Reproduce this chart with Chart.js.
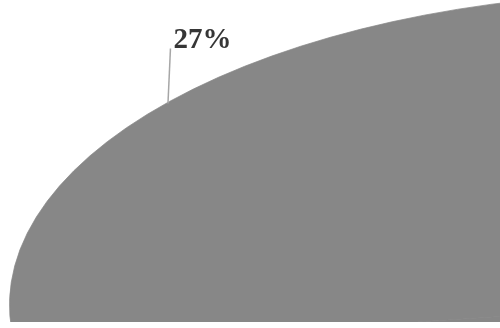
<!DOCTYPE html>
<html><head><meta charset="utf-8">
<script src="https://cdn.jsdelivr.net/npm/chart.js@4.4.1/dist/chart.umd.min.js"></script>
<style>
html,body{margin:0;padding:0;background:#fff;overflow:hidden;width:500px;height:328px;}
#clip{position:absolute;left:0;top:0;width:500px;height:322px;overflow:hidden;}
#c{position:absolute;left:9px;top:-360px;}
</style></head><body>
<div id="clip"><canvas id="c" width="1330" height="1330"></canvas></div>
<script>
const categories = ['Category A', 'Category B'];
const values = [27, 73];

const sliceColors = ['#878787', '#878787'];
const tiltY = 313 / 665;

const ellipsePlugin = {
  id: 'ellipse',
  beforeDatasetsDraw(chart) {
    const a = chart.getDatasetMeta(0).data[0];
    const ctx = chart.ctx;
    ctx.save();
    ctx.translate(a.x, a.y);
    ctx.scale(1, tiltY);
    ctx.translate(-a.x, -a.y);
  },
  afterDatasetsDraw(chart) { chart.ctx.restore(); }
};

const labelPlugin = {
  id: 'pctLabel',
  afterDraw(chart) {
    const ctx = chart.ctx;
    const arc = chart.getDatasetMeta(0).data[0];
    const mid = (arc.startAngle + arc.endAngle) / 2;
    const R = arc.outerRadius;
    const px = arc.x + Math.cos(mid) * R;
    const py = arc.y + Math.sin(mid) * R * tiltY;
    const total = values.reduce((s, v) => s + v, 0);
    const txt = Math.round(values[0] / total * 100) + '%';
    ctx.save();
    ctx.strokeStyle = '#a6a6a6';
    ctx.lineWidth = 1.5;
    ctx.beginPath();
    ctx.moveTo(px - 1.5, py + 2);
    ctx.lineTo(px + 1, py - 53);
    ctx.stroke();
    ctx.font = 'bold 29px "Liberation Serif", "DejaVu Serif", serif';
    ctx.fillStyle = '#363636';
    ctx.textBaseline = 'alphabetic';
    ctx.textAlign = 'left';
    ctx.fillText(txt, px + 4, py - 53);
    ctx.restore();
  }
};

new Chart(document.getElementById('c'), {
  type: 'pie',
  data: {
    labels: categories,
    datasets: [{ data: values, backgroundColor: sliceColors, borderColor: sliceColors, borderWidth: 1 }]
  },
  options: {
    responsive: false,
    animation: false,
    events: [],
    rotation: 262,
    layout: { padding: 0 },
    plugins: { legend: { display: false }, tooltip: { enabled: false } }
  },
  plugins: [ellipsePlugin, labelPlugin]
});
</script>
</body></html>
